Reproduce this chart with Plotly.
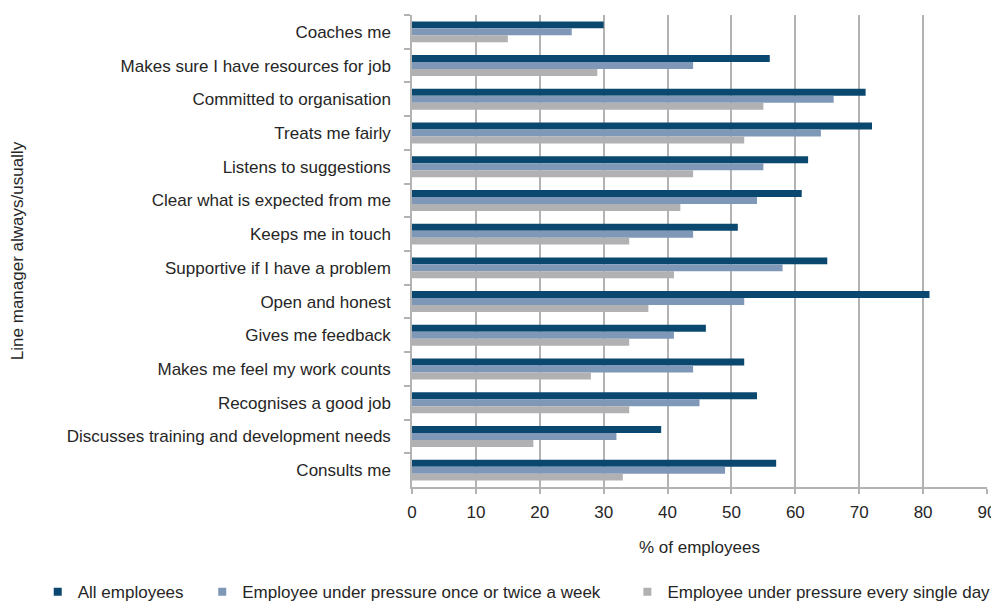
import plotly.graph_objects as go

categories = [
    "Coaches me",
    "Makes sure I have resources for job",
    "Committed to organisation",
    "Treats me fairly",
    "Listens to suggestions",
    "Clear what is expected from me",
    "Keeps me in touch",
    "Supportive if I have a problem",
    "Open and honest",
    "Gives me feedback",
    "Makes me feel my work counts",
    "Recognises a good job",
    "Discusses training and development needs",
    "Consults me",
]
all_employees = [30, 56, 71, 72, 62, 61, 51, 65, 81, 46, 52, 54, 39, 57]
weekly_pressure = [25, 44, 66, 64, 55, 54, 44, 58, 52, 41, 44, 45, 32, 49]
daily_pressure = [15, 29, 55, 52, 44, 42, 34, 41, 37, 34, 28, 34, 19, 33]

series = [
    ("All employees", all_employees, "#0b4870", "legend"),
    ("Employee under pressure once or twice a week", weekly_pressure, "#7f98b8", "legend2"),
    ("Employee under pressure every single day", daily_pressure, "#b1b1b3", "legend3"),
]

fig = go.Figure()
for name, vals, col, lg in series:
    fig.add_trace(go.Bar(y=categories, x=vals, orientation="h", name=name,
                         marker=dict(color=col, line=dict(width=0)), showlegend=False))
    # small square legend markers, like the original
    fig.add_trace(go.Scatter(x=[None], y=[None], mode="markers", name=name, legend=lg,
                             marker=dict(symbol="square", size=8, color=col)))

txt = "#262626"
fnt = dict(family="Liberation Sans, Arial, sans-serif", size=17, color=txt)
leg = dict(orientation="h", xref="container", yref="container", yanchor="middle",
           y=0.015, font=fnt, itemwidth=30, bgcolor="rgba(0,0,0,0)")

# page body adds an 8px offset, so the figure is 8px smaller than the window
fig.update_layout(
    width=991, height=593,
    margin=dict(l=404, r=12, t=7, b=114, autoexpand=False),
    plot_bgcolor="white", paper_bgcolor="white",
    font=fnt,
    barmode="group", bargap=0.38, bargroupgap=0,
    legend=dict(leg, x=0.03),
    legend2=dict(leg, x=0.196),
    legend3=dict(leg, x=0.625),
)
fig.update_xaxes(
    range=[0, 90], dtick=10, showgrid=True, gridcolor="#b3b3b3", gridwidth=1.5,
    showline=True, linecolor="#b3b3b3", linewidth=1.5,
    ticks="outside", ticklen=5, tickcolor="#b3b3b3", tickwidth=1.5,
    ticklabelstandoff=4,
    tickfont=fnt, automargin=False,
    title=dict(text="% of employees", font=fnt, standoff=20),
    zeroline=False,
)
fig.update_yaxes(
    autorange="reversed", showline=True, linecolor="#b3b3b3", linewidth=1.5,
    ticks="outside", ticklen=6, tickcolor="#b3b3b3", tickwidth=1.5, tickson="boundaries",
    ticklabelstandoff=16, automargin=False,
    tickfont=fnt,
    title=dict(text="Line manager always/usually", font=fnt, standoff=52),
    showgrid=False,
)

fig.write_html("out.html")
